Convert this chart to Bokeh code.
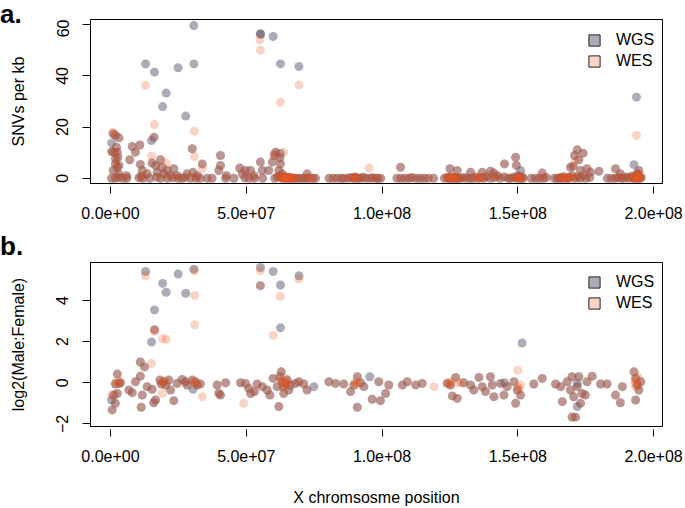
from bokeh.plotting import figure
from bokeh.models import Range1d, FixedTicker, Legend, LegendItem, Div
from bokeh.layouts import column
from bokeh.embed import file_html
from bokeh.resources import INLINE

FONT = "Liberation Sans"
NAN = float("nan")

# ---------------- data (positions in Mb) ----------------
x_ticks = [0, 5e7, 1e8, 1.5e8, 2e8]
x_tick_labels = ["0.0e+00", "5.0e+07", "1.0e+08", "1.5e+08", "2.0e+08"]
top_y_ticks = [0, 20, 40, 60]
bot_y_ticks = [-2, 0, 2, 4]

# panel a: SNVs per kb
top_wgs_only_x = [30.7, 30.7, 12.9, 16.2, 24.9, 20.5, 19.2, 27.7, 15.1, 0.4, 55.2, 55.3, 59.9, 62.6, 69.4, 62.6, 151.0, 193.7, 192.8]
top_wgs_only_y = [59.7, 44.7, 44.7, 41.5, 43.2, 33.3, 28.0, 24.3, 14.7, 13.8, 56.5, 56.3, 55.4, 44.7, 43.7, 9.7, 3.0, 31.7, 5.3]
top_wes_only_x = [12.9, 16.2, 30.9, 30.9, 15.1, 20.5, 55.0, 55.2, 62.6, 63.8, 69.4, 0.9, 33.8, 60.2, 95.2, 193.7, 171.0]
top_wes_only_y = [36.3, 21.0, 18.4, 8.5, 8.6, 5.9, 54.1, 50.0, 29.7, 10.2, 36.5, 18.0, 3.7, 9.5, 4.0, 16.7, 6.5]
top_both_x = [1.0, 1.8, 3.1, 2.2, 0.4, 2.5, 1.2, 2.7, 1.8, 1.8, 2.5, 3.1, 1.0, 3.1, 5.9, 7.1, 8.0, 9.2, 10.8,
              11.0, 11.7, 11.3, 13.5, 15.3, 16.0, 16.6, 17.2, 18.4, 19.0, 19.6, 20.9, 22.1, 23.3, 24.6, 28.2,
              30.1, 30.4, 31.9, 33.8, 39.9, 40.5, 40.5, 42.7, 47.6, 48.5, 49.7, 51.6, 52.8, 55.2, 55.9, 58.3,
              59.6, 60.4, 60.8, 62.4, 62.6, 62.0, 63.2, 72.4,
              106.8, 125.0, 127.7, 132.6, 136.9, 139.9, 141.2, 145.1, 149.2, 149.5, 159.0, 169.4, 170.9,
              171.9, 174.1, 172.5, 170.4, 173.1, 175.5, 176.8, 179.9, 186.0, 187.8, 194.6, 194.0]
top_both_y = [17.4, 16.8, 15.8, 12.1, 10.4, 10.2, 10.2, 8.2, 7.6, 5.6, 4.3, 5.0, 3.0, 1.7, 1.0, 7.2, 12.4, 10.2, 13.0,
              5.4, 3.0, 0.7, 1.7, 5.9, 16.0, 5.0, 2.3, 7.2, 4.3, 1.7, 3.0, 1.0, 3.7, 1.0, 1.7,
              11.5, 2.3, 1.0, 5.6, 3.0, 8.9, 5.0, 1.0, 4.0, 1.7, 3.0, 3.0, 1.0, 6.3, 3.0, 3.0,
              6.3, 8.9, 10.2, 8.0, 5.6, 3.0, 1.7, 1.7,
              4.3, 3.7, 3.0, 2.3, 2.3, 2.7, 2.0, 5.6, 8.2, 5.0, 2.0, 4.3, 8.9,
              11.1, 9.8, 7.2, 4.7, 3.0, 3.7, 2.3, 2.7, 3.7, 1.7, 3.0, 1.7]
top_base_x = [0.4, 1.8, 3.0, 4.5, 6.0, 10.5, 12.0, 14.5, 17.0, 18.5, 21.0, 23.0, 25.0, 26.4, 27.5, 29.5, 31.5,
              33.0, 35.6, 37.4, 42.4, 45.4, 49.5, 51.0, 53.0, 56.0, 60.5, 61.5, 62.5, 63.0, 63.5, 64.0, 64.5,
              65.0, 65.5, 66.0, 66.5, 67.0, 68.0, 69.0, 70.0, 71.0, 72.0, 73.0, 74.5, 75.5,
              80.5, 82.0, 83.5, 85.0, 86.0, 87.5, 88.5, 89.5, 90.0, 90.5, 91.0, 92.0, 93.0, 94.0, 95.5, 96.5,
              97.5, 98.5, 99.5, 105.5, 107.0, 108.5, 110.0, 111.0, 112.5, 114.0, 115.5, 117.0, 119.0,
              123.0, 124.0, 124.5, 125.0, 125.5, 126.0, 126.5, 127.0, 127.5, 128.0, 129.0, 130.0, 131.0,
              132.5, 133.5, 134.5, 135.5, 136.5, 137.5, 138.5, 140.0, 141.5, 142.5, 143.5, 145.0, 146.5,
              147.5, 148.5, 149.5, 150.0, 150.5, 151.0, 151.5, 152.0, 155.0, 156.5, 158.0, 159.5, 160.5,
              163.5, 164.5, 165.5, 166.0, 166.5, 167.0, 168.0, 168.5, 169.0, 170.0, 171.0, 172.0, 173.0,
              174.0, 175.0, 176.5, 183.0, 184.5, 186.0, 187.0, 188.0, 189.0, 190.0, 191.0, 192.0, 192.5,
              193.0, 193.5, 194.0, 194.5, 195.0, 195.5]
top_base_y = [0.0, 0.0, 0.3, 0.0, 0.0, 0.2, 0.0, 0.0, 0.4, 0.0, 0.0, 0.2, 0.0, 0.0, 0.3, 0.0, 0.0,
              0.0, 0.0, 0.0, 0.0, 0.0, 0.2, 0.0, 0.0, 0.0, 0.0, 0.5, 0.8, 0.3, 0.0, 0.6, 0.2,
              0.0, 0.4, 0.0, 0.2, 0.0, 0.0, 0.0, 0.0, 0.0, 0.0, 0.0, 0.0, 0.0,
              0.0, 0.0, 0.0, 0.0, 0.0, 0.0, 0.3, 0.0, 0.5, 0.2, 0.0, 0.0, 0.4, 0.0, 0.0, 0.2,
              0.0, 0.0, 0.0, 0.0, 0.0, 0.0, 0.0, 0.3, 0.0, 0.0, 0.0, 0.0, 0.0,
              0.0, 0.3, 0.0, 0.5, 0.0, 0.2, 0.0, 0.4, 0.0, 0.0, 0.0, 0.3, 0.0,
              0.0, 0.0, 0.5, 0.0, 0.3, 0.0, 0.6, 0.0, 0.3, 1.0, 0.0, 0.5, 0.0,
              0.0, 0.4, 0.0, 1.0, 0.3, 0.0, 0.6, 0.0, 0.0, 0.0, 0.0, 0.0, 0.3, 0.0,
              0.0, 0.0, 0.3, 0.0, 0.6, 0.0, 0.0, 0.4, 1.0, 0.0, 0.5, 0.0, 1.0,
              0.0, 0.3, 0.0, 0.0, 0.0, 0.3, 0.0, 0.0, 0.5, 0.0, 0.8, 0.2,
              0.0, 0.4, 0.0, 1.2, 0.0, 0.3]
top_dense_x = [63.0, 63.5, 64.0, 64.3, 64.6, 65.0, 65.4, 66.0, 66.8, 67.5, 74.0, 89.5, 90.5, 124.5, 125.0,
               125.5, 126.0, 127.0, 135.0, 136.0, 150.0, 150.5, 151.0, 166.5, 167.5, 168.5, 169.5, 192.5,
               193.0, 193.5, 194.0, 194.5, 195.0, 193.8]
top_dense_y = [0.0, 0.3, 0.0, 0.5, 0.0, 0.2, 0.0, 0.0, 0.0, 0.0, 0.0, 0.0, 0.2, 0.0, 0.3,
               0.0, 0.0, 0.0, 0.0, 0.2, 0.0, 0.3, 0.0, 0.0, 0.2, 0.0, 0.0, 0.0,
               0.3, 0.0, 0.6, 0.0, 0.2, 1.5]

# panel b: log2(Male:Female)
bot_wgs_only_x = [12.9, 30.7, 24.9, 19.2, 20.5, 27.7, 16.2, 15.1, 55.2, 59.9, 62.6, 62.6, 69.4, 0.4, 30.4,
                  151.6, 95.5, 74.9, 171.9, 171.9, 145.1]
bot_wgs_only_y = [5.41, 5.52, 5.28, 4.83, 4.40, 4.35, 3.54, 1.98, 5.60, 5.41, 4.75, 2.67, 5.20, -0.84, -0.32,
                  1.93, 0.29, -0.19, -1.16, -0.03, 0.0]
bot_wes_only_x = [12.9, 31.0, 31.0, 16.2, 19.2, 20.5, 15.1, 55.2, 62.6, 59.9, 69.4, 33.8, 49.1, 0.4, 19.0,
                  150.0, 119.1, 30.9]
bot_wes_only_y = [5.20, 4.24, 2.82, 2.50, 2.14, 2.11, 0.93, 5.44, 4.19, 2.30, 5.04, -0.68, -1.0, -0.6, -0.52,
                  0.61, -0.19, 5.45]
bot_both_x = [16.2, 55.2, 0.6, 1.8, 1.2, 2.5, 3.1, 1.8, 2.5, 3.7, 6.8, 8.0, 9.2, 11.0, 12.5, 11.0, 11.7, 11.3,
              13.5, 15.3, 15.9, 16.6, 18.2, 18.7, 19.6, 20.3, 21.5, 22.1, 23.3, 24.6, 26.4, 27.6, 28.2,
              30.1, 31.3, 31.9, 33.1, 39.3, 39.9, 40.5, 42.4, 47.9, 49.7, 50.9, 51.6, 53.0, 54.0, 55.9,
              57.7, 58.7, 59.9, 61.4, 62.0, 62.4, 62.9, 63.2, 63.6, 63.8, 64.5, 65.1, 65.7, 66.3, 68.2,
              69.4, 71.2, 72.4, 80.4, 82.9, 85.9, 88.4, 89.6, 90.9, 90.9, 92.1, 93.3, 96.4, 98.8, 99.4,
              101.3, 102.5, 107.5, 109.3, 112.4, 114.8, 124.0, 125.2, 125.9, 127.1, 127.7, 130.1, 132.6,
              133.8, 135.7, 136.9, 138.1, 139.9, 140.6, 141.2, 143.7, 144.9, 146.1, 148.6, 149.2, 149.8,
              151.0, 155.9, 159.0, 163.9, 165.8, 166.4, 168.2, 169.4, 170.0, 170.6, 171.3, 171.9, 172.5,
              173.1, 173.7, 174.9, 175.5, 177.4, 180.5, 182.9, 186.0, 187.8, 188.5, 192.8, 193.4, 194.0,
              193.4, 194.6, 195.3, 170.0]
bot_both_y = [2.58, 4.72, -1.32, -1.0, -0.6, -0.52, -0.03, -0.06, 0.42, 0.0, -0.35, -0.48, 0.05, 1.01, 0.77,
              0.32, -0.6, -1.19, -0.19, -0.32, -0.97, -0.84, 0.13, -0.06, 0.05, -0.11, 0.13, -0.35, -0.87,
              -0.03, 0.16, 0.05, -0.11, 0.13, 0.05, -0.11, -0.06, -0.11, -0.52, -0.6, 0.0, 0.0, -0.03,
              -0.27, -0.52, -0.43, -0.06, -0.19, -0.35, -0.6, 0.21, -0.19, -1.16, 0.29, 0.53, 0.05, -0.19,
              -0.52, -0.03, 0.13, -0.35, -0.11, -0.03, 0.05, -0.06, -0.35, 0.05, -0.03, -0.06, -0.43,
              -0.11, 0.29, -1.19, 0.0, -0.19, -0.8, 0.05, -0.87, -0.52, -0.11, -0.11, 0.05, -0.11, -0.03,
              -0.03, -0.11, -0.64, 0.26, -0.76, 0.0, -0.11, -0.35, 0.26, -0.19, -0.43, 0.29, -0.11, -0.68,
              -0.03, -0.6, -0.19, 0.05, -1.0, -0.35, -0.6, -0.06, 0.21, -0.06, -0.19, -0.92, 0.05, -0.35,
              0.29, -0.68, -1.67, -0.19, 0.29, -1.0, -0.52, -0.6, 0.05, 0.32, -0.06, -0.06, -0.6, -0.97,
              -0.19, 0.53, 0.21, -0.11, -0.84, -0.35, 0.05, -1.67]
bot_dense_x = [2.0, 3.0, 19.0, 20.0, 30.5, 31.5, 63.0, 63.5, 64.0, 64.5, 65.0, 90.0, 90.5, 91.0, 124.5, 125.0,
               125.5, 128.0, 129.0, 150.0, 150.5, 151.0, 193.0, 193.5, 194.0, 193.5, 194.2]
bot_dense_y = [0.0, 0.1, 0.0, 0.1, 0.05, -0.05, 0.1, 0.0, -0.1, 0.2, 0.0, 0.0, -0.1, 0.05, 0.0, -0.1,
               0.05, 0.0, 0.0, -0.2, -0.3, -0.1, 0.0, 0.1, -0.05, -0.2, 0.3]

WGS_COLOR, WGS_ALPHA = "#4a4560", 0.45
WES_COLOR, WES_ALPHA = "#e85a24", 0.26
PT = 9


def mb(v):
    return [a * 1e6 for a in v]


def label_strip(text, height, line_height):
    return Div(text=text, width=685, height=height,
               styles={"font-family": FONT, "font-weight": "bold", "font-size": "26px",
                       "line-height": f"{line_height}px", "color": "black", "margin": "0px",
                       "padding": "0px", "overflow": "visible", "z-index": "2"})


def make_panel(height, yr, yticks, ylabel, min_top, min_bottom, xlabel=None,
               wgs_x=(), wgs_y=(), wes_x=(), wes_y=(), legend_y=0):
    p = figure(width=685, height=height, output_backend="svg", toolbar_location=None,
               x_range=Range1d(-7.37e6, 203.3e6), y_range=Range1d(*yr),
               min_border_left=90, min_border_right=23, min_border_top=min_top,
               min_border_bottom=min_bottom, background_fill_color="white",
               border_fill_alpha=0)
    p.grid.visible = False
    p.outline_line_color = "black"
    p.outline_line_width = 1
    p.outline_line_alpha = 1

    p.scatter(mb(wgs_x), wgs_y, size=PT, fill_color=WGS_COLOR, fill_alpha=WGS_ALPHA, line_color=None)
    p.scatter(mb(wes_x), wes_y, size=PT, fill_color=WES_COLOR, fill_alpha=WES_ALPHA, line_color=None)

    xa = p.xaxis[0]
    xa.ticker = FixedTicker(ticks=x_ticks)
    xa.major_label_overrides = {t: l for t, l in zip(x_ticks, x_tick_labels)}
    xa.axis_line_alpha = 0
    xa.major_tick_in = -3
    xa.major_tick_out = 10
    xa.minor_tick_line_alpha = 0
    xa.major_tick_line_color = "black"
    xa.major_label_text_font = FONT
    xa.major_label_text_font_size = "16px"
    xa.major_label_text_color = "black"
    xa.major_label_standoff = 13
    if xlabel:
        xa.axis_label = xlabel
        xa.axis_label_text_font = FONT
        xa.axis_label_text_font_size = "16px"
        xa.axis_label_text_font_style = "normal"
        xa.axis_label_text_color = "black"
        xa.axis_label_standoff = 24

    ya = p.yaxis[0]
    ya.ticker = FixedTicker(ticks=yticks)
    ya.axis_line_color = "black"
    ya.major_tick_in = 0
    ya.major_tick_out = 8
    ya.minor_tick_line_alpha = 0
    ya.major_label_orientation = "vertical"
    ya.major_label_text_font = FONT
    ya.major_label_text_font_size = "16px"
    ya.major_label_text_color = "black"
    ya.major_label_standoff = 14
    ya.axis_label = ylabel
    ya.axis_label_text_font = FONT
    ya.axis_label_text_font_size = "16px"
    ya.axis_label_text_font_style = "normal"
    ya.axis_label_text_color = "black"
    ya.axis_label_standoff = 27

    lg1 = p.quad(left=[NAN], right=[NAN], top=[NAN], bottom=[NAN], fill_color=WGS_COLOR,
                 fill_alpha=WGS_ALPHA, line_color="#222222")
    lg2 = p.quad(left=[NAN], right=[NAN], top=[NAN], bottom=[NAN], fill_color=WES_COLOR,
                 fill_alpha=WES_ALPHA, line_color="#222222")
    leg = Legend(items=[LegendItem(label="WGS", renderers=[lg1]), LegendItem(label="WES", renderers=[lg2])],
                 location=(487, legend_y), glyph_width=14, glyph_height=14, label_height=18, spacing=3,
                 label_standoff=15, padding=10, margin=0, background_fill_alpha=0, border_line_alpha=0,
                 label_text_font=FONT, label_text_font_size="16px", label_text_color="black")
    p.add_layout(leg)
    return p


strip_a = label_strip("a.", 19, 29)
top = make_panel(211, (-2.07, 62.07), top_y_ticks, "SNVs per kb", 0, 47,
                 wgs_x=top_wgs_only_x + top_both_x + top_base_x,
                 wgs_y=top_wgs_only_y + top_both_y + top_base_y,
                 wes_x=top_wes_only_x + top_both_x + top_base_x + top_dense_x,
                 wes_y=top_wes_only_y + top_both_y + top_base_y + top_dense_y,
                 legend_y=103)
strip_b = label_strip("b.", 28, 32)
bot = make_panel(250, (-2.126, 5.845), bot_y_ticks, "log2(Male:Female)", 4, 81,
                 xlabel="X chromsosme position",
                 wgs_x=bot_wgs_only_x + bot_both_x,
                 wgs_y=bot_wgs_only_y + bot_both_y,
                 wes_x=bot_wes_only_x + bot_both_x + bot_dense_x,
                 wes_y=bot_wes_only_y + bot_both_y + bot_dense_y,
                 legend_y=104)

layout = column(strip_a, top, strip_b, bot, spacing=0)
open("out.html", "w").write(file_html(layout, INLINE))
